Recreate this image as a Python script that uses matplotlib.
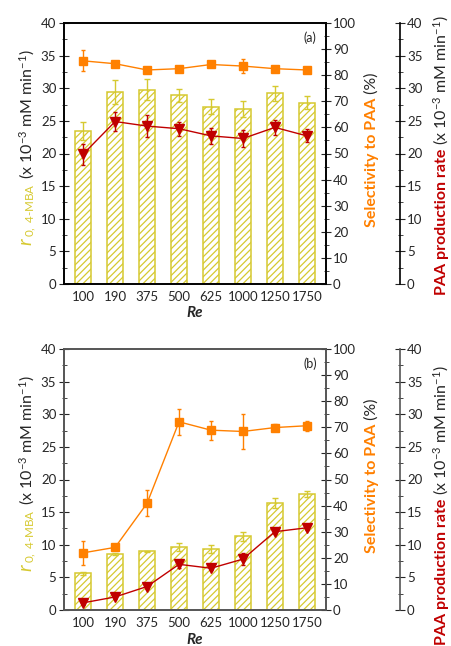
import matplotlib
matplotlib.use('Agg')
import matplotlib.pyplot as plt
from matplotlib.ticker import MultipleLocator
import numpy as np

plt.rcParams['font.family'] = ['Lato', 'DejaVu Sans']
plt.rcParams['mathtext.fontset'] = 'custom'
plt.rcParams['mathtext.rm'] = 'Lato'
plt.rcParams['mathtext.it'] = 'Lato:italic'
plt.rcParams['mathtext.bf'] = 'Lato:bold'
plt.rcParams['hatch.linewidth'] = 0.9

re_labels = ['100', '190', '375', '500', '625', '1000', '1250', '1750']

# (a) initial rate of 4-MBA (bars), selectivity to PAA, PAA production rate
rate_a = [23.4, 29.4, 29.8, 28.9, 27.2, 26.8, 29.2, 27.8]
rate_a_err = [1.4, 1.8, 1.6, 1.0, 1.2, 1.2, 1.2, 1.0]
sel_a = [85.5, 84.4, 82.0, 82.5, 84.1, 83.5, 82.5, 82.0]
sel_a_err = [4.0, 0.6, 1.3, 1.0, 0.4, 2.7, 0.6, 0.6]
paa_a = [19.9, 24.9, 24.2, 23.8, 22.7, 22.3, 24.0, 22.7]
paa_a_err = [1.6, 1.5, 1.7, 1.1, 1.2, 1.3, 1.1, 1.0]

# (b)
rate_b = [5.6, 8.6, 9.0, 9.7, 9.3, 11.3, 16.4, 17.8]
rate_b_err = [0.2, 0.2, 0.1, 0.6, 0.6, 0.7, 0.7, 0.5]
sel_b = [21.9, 24.0, 40.9, 72.1, 68.9, 68.4, 69.9, 70.6]
sel_b_err = [4.7, 0.5, 5.0, 5.0, 3.7, 6.6, 1.5, 2.0]
paa_b = [1.1, 2.0, 3.6, 7.0, 6.4, 7.8, 12.0, 12.6]
paa_b_err = [0.3, 0.3, 0.4, 0.6, 0.3, 0.9, 0.4, 0.3]

yellow = '#d6c930'
orange = '#ff8000'
red = '#c00000'
dark = '#262626'

W, H = 452, 646
fig = plt.figure(figsize=(W / 100, H / 100), dpi=100)
renderer = fig.canvas.get_renderer()


def stacked_label(x, y, parts, size):
    # rotated label made of differently coloured pieces, x = baseline, y = bottom (pixels from top-left)
    for s, kw in parts:
        t = fig.text(x / W, 1 - y / H, s, rotation=90, rotation_mode='anchor',
                     ha='left', va='baseline', fontsize=kw.pop('size', size), **kw)
        y -= t.get_window_extent(renderer).height


def panel(top, rate, rate_err, sel, sel_err, paa, paa_err, tag, spine_col, paa_lab_y, re_y):
    left, right, bottom = 64, 326, top + 261
    ax = fig.add_axes([left / W, 1 - bottom / H, (right - left) / W, (bottom - top) / H])
    x = np.arange(len(re_labels))

    ax.bar(x, rate, 0.5, yerr=rate_err, color='white', edgecolor=yellow, hatch='/////',
           linewidth=1.1, error_kw=dict(ecolor=yellow, elinewidth=1, capsize=2, capthick=1))
    ax.set_xlim(-0.6, 7.6)
    ax.set_ylim(0, 40)
    ax.set_xticks(x)
    ax.set_xticklabels(re_labels)
    ax.yaxis.set_major_locator(MultipleLocator(5))
    ax.yaxis.set_minor_locator(MultipleLocator(2.5))
    ax.tick_params(axis='x', length=0, pad=5, labelsize=9.5, colors=dark)
    ax.tick_params(axis='y', which='major', direction='inout', length=7, labelsize=9.5, colors=dark, pad=2)
    ax.tick_params(axis='y', which='minor', direction='inout', length=3.6, colors=dark)

    ax2 = ax.twinx()
    ax2.errorbar(x, sel, yerr=sel_err, color=orange, marker='s', markersize=5.8, linewidth=1,
                 elinewidth=1, capsize=1.5, capthick=1)
    ax2.set_ylim(0, 100)
    ax2.yaxis.set_major_locator(MultipleLocator(10))
    ax2.yaxis.set_minor_locator(MultipleLocator(5))
    ax2.tick_params(axis='y', which='major', direction='inout', length=7, labelsize=9.5, colors=dark, pad=1.5)
    ax2.tick_params(axis='y', which='minor', direction='inout', length=3.6, colors=dark)

    ax3 = ax.twinx()
    ax3.errorbar(x, paa, yerr=paa_err, color=red, marker='v', markersize=7.5, linewidth=1,
                 elinewidth=1, capsize=1.5, capthick=1)
    ax3.set_ylim(0, 40)
    ax3.spines['right'].set_position(('outward', 74 * 0.72))
    for s in ['top', 'left', 'bottom']:
        ax3.spines[s].set_visible(False)
    ax3.yaxis.set_major_locator(MultipleLocator(5))
    ax3.yaxis.set_minor_locator(MultipleLocator(2.5))
    ax3.tick_params(axis='y', which='major', direction='inout', length=7, labelsize=9.5, colors=dark, pad=1.5)
    ax3.tick_params(axis='y', which='minor', direction='inout', length=3.6, colors=dark)

    for a in (ax, ax2, ax3):
        for sp in a.spines.values():
            sp.set_color(spine_col)
            sp.set_linewidth(1.2)

    ax.text(0.965, 0.945, tag, transform=ax.transAxes, ha='right', va='center', fontsize=9, color=dark)

    fig.text(195 / W, 1 - re_y / H, 'Re', ha='center', va='center', fontsize=11,
             fontweight='bold', fontstyle='italic', color=dark)

    stacked_label(32, top + 223, [
        (r'$r$', dict(color=yellow, size=14)),
        (r'$_{\mathrm{0,\ 4\text{-}MBA}}$', dict(color=yellow, size=12)),
        (r' (x 10$^{-3}$ mM min$^{-1}$)', dict(color=dark)),
    ], 11.5)
    stacked_label(376, top + 204, [
        ('Selectivity to PAA', dict(color=orange, fontweight='bold')),
        (' (%)', dict(color=dark)),
    ], 11.5)
    stacked_label(446, paa_lab_y, [
        ('PAA production rate', dict(color=red, fontweight='bold')),
        (r' (x 10$^{-3}$ mM min$^{-1}$)', dict(color=dark)),
    ], 11.5)


panel(23, rate_a, rate_a_err, sel_a, sel_a_err, paa_a, paa_a_err, '(a)', 'black', 295, 313)
panel(349, rate_b, rate_b_err, sel_b, sel_b_err, paa_b, paa_b_err, '(b)', '#555555', 645, 640)

fig.savefig('out.png', dpi=100)
